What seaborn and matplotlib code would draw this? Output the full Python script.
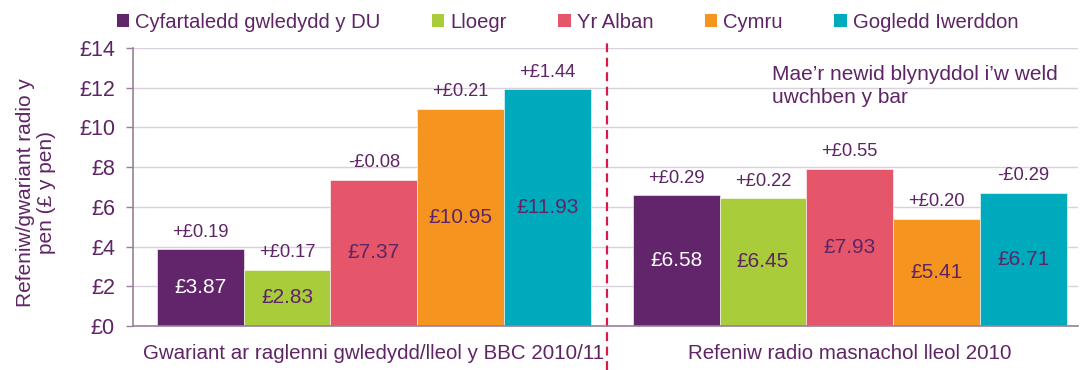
import matplotlib
matplotlib.use("Agg")
import matplotlib.pyplot as plt
from matplotlib.patches import Patch
import seaborn as sns
import pandas as pd

# Data
groups = ["Gwariant ar raglenni gwledydd/lleol y BBC 2010/11",
          "Refeniw radio masnachol lleol 2010"]
nations = ["Cyfartaledd gwledydd y DU", "Lloegr", "Yr Alban", "Cymru", "Gogledd Iwerddon"]
spend_bbc = [3.87, 2.83, 7.37, 10.95, 11.93]
revenue_commercial = [6.58, 6.45, 7.93, 5.41, 6.71]
change_bbc = ["+£0.19", "+£0.17", "-£0.08", "+£0.21", "+£1.44"]
change_commercial = ["+£0.29", "+£0.22", "+£0.55", "+£0.20", "-£0.29"]
y_ticks = [0, 2, 4, 6, 8, 10, 12, 14]

palette = ["#62246A", "#A8CC3A", "#E5566A", "#F5951F", "#00AABD"]
text_col = "#5F2465"
inside_text_cols = ["white", text_col, text_col, text_col, text_col]

df = pd.DataFrame({
    "group": [groups[0]] * 5 + [groups[1]] * 5,
    "nation": nations * 2,
    "value": spend_bbc + revenue_commercial,
})

sns.set_theme(style="white")
plt.rcParams["font.family"] = ["Liberation Sans", "DejaVu Sans"]

fig = plt.figure(figsize=(10.81, 3.70), dpi=100)
ax = fig.add_axes([0.123, 0.119, 0.874, 0.751])

sns.barplot(data=df, x="group", y="value", hue="nation", order=groups,
            hue_order=nations, palette=palette, width=0.912, gap=0,
            saturation=1, edgecolor="white", linewidth=0.4, ax=ax, legend=False)

ax.set_ylim(0, 14)
ax.set_xlim(-0.506, 1.479)
ax.set_yticks(y_ticks)
ax.set_yticklabels([f"£{v}" for v in y_ticks], color=text_col, fontsize=15.5)
ax.tick_params(axis="y", length=5, width=1, color="#9A7F9C", pad=8, left=True)
ax.tick_params(axis="x", length=0, pad=13, labelsize=14.8, labelcolor=text_col)
ax.set_xlabel("")
ax.set_ylabel("Refeniw/gwariant radio y\npen (£ y pen)", color=text_col,
              fontsize=15, linespacing=1.15)
ax.yaxis.set_label_coords(-0.081, 0.48)
ax.yaxis.grid(True, color="#D9D1DB", linewidth=1)
ax.set_axisbelow(True)
for side in ["top", "right"]:
    ax.spines[side].set_visible(False)
ax.spines["left"].set_color("#9A7F9C")
ax.spines["bottom"].set_color("#9A7F9C")
ax.spines["left"].set_linewidth(1.2)
ax.spines["bottom"].set_linewidth(1.2)

# Value and annual change labels
for i, cont in enumerate(ax.containers):
    vals = [spend_bbc[i], revenue_commercial[i]]
    ax.bar_label(cont, labels=[f"£{v:.2f}" for v in vals], label_type="center",
                 color=inside_text_cols[i], fontsize=15)
    ax.bar_label(cont, labels=[change_bbc[i], change_commercial[i]], padding=6,
                 color=text_col, fontsize=13.2)

# Divider between the two measures
ax.axvline(0.49, ymin=-0.16, ymax=1.03, color="#D7194B", linestyle=(0, (4, 2.5)),
           linewidth=1.6, clip_on=False)

ax.text(0.836, 12.1, "Mae’r newid blynyddol i’w weld\nuwchben y bar",
        color=text_col, fontsize=15, va="center", ha="left", linespacing=1.3)

handles = [Patch(facecolor=c, edgecolor="none") for c in palette]
leg = fig.legend(handles, nations, loc="center", bbox_to_anchor=(0.525, 0.94),
                 ncol=5, frameon=False, fontsize=14.6, handlelength=0.6,
                 handleheight=0.6, handletextpad=0.3, columnspacing=2.55)
for t in leg.get_texts():
    t.set_color(text_col)

fig.savefig("out.png", dpi=100)
